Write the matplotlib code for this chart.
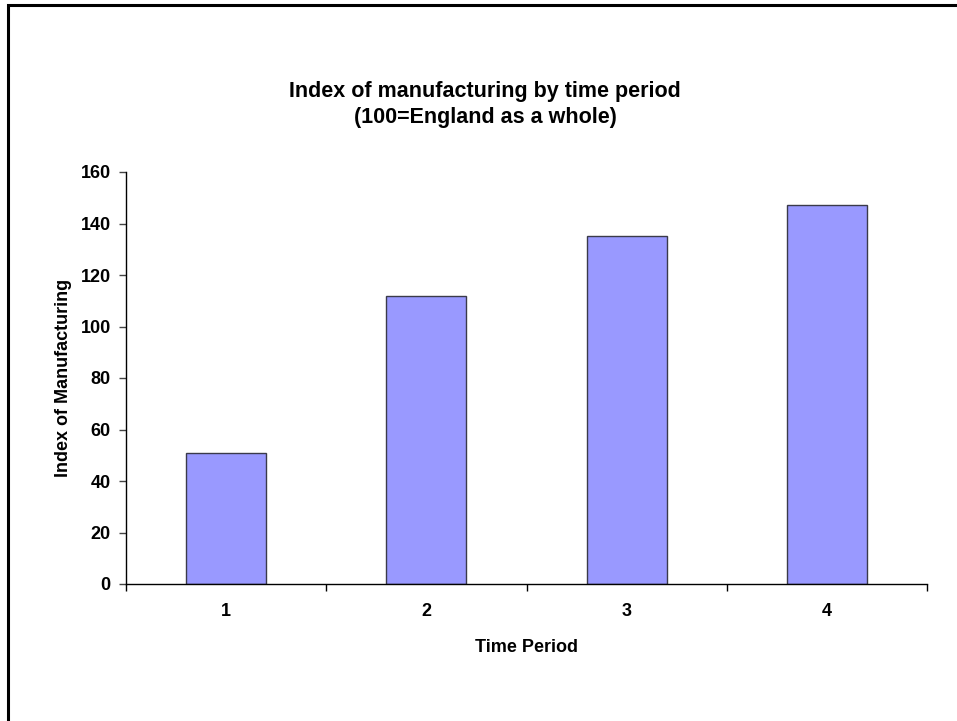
import matplotlib.pyplot as plt
import numpy as np
from matplotlib.patches import Rectangle

# index values per time period (100 = England as a whole)
periods = ["1", "2", "3", "4"]
index_values = [51, 112, 135, 147]
y_ticks = [0, 20, 40, 60, 80, 100, 120, 140, 160]

plt.rcParams['font.family'] = ['Liberation Sans', 'DejaVu Sans']
plt.rcParams['font.weight'] = 'bold'

fig = plt.figure(figsize=(9.57, 7.21), dpi=100)
ax = fig.add_axes([126 / 957, 137 / 721, 801 / 957, 412 / 721])

x = np.arange(len(periods))
ax.bar(x, index_values, width=0.4, color='#9999ff', edgecolor='#3a3a4a', linewidth=1.0)

ax.set_xlim(-0.5, len(periods) - 0.5)
ax.set_ylim(0, 160)
ax.set_yticks(y_ticks)
ax.set_yticklabels([str(v) for v in y_ticks], fontsize=13, fontweight='bold')
ax.set_xticks(x)
ax.set_xticklabels(periods, fontsize=13, fontweight='bold')
ax.set_xticks(np.arange(len(periods) + 1) - 0.5, minor=True)

ax.tick_params(axis='x', which='major', length=0, pad=14)
ax.tick_params(axis='x', which='minor', length=5, width=1, direction='out', color='black')
ax.tick_params(axis='y', length=5, width=1, direction='out', pad=6, color='#444444')

for side in ['top', 'right']:
    ax.spines[side].set_visible(False)
for side in ['left', 'bottom']:
    ax.spines[side].set_linewidth(1.0)
    ax.spines[side].set_color('black')

ax.set_xlabel("Time Period", fontsize=13, fontweight='bold', labelpad=13)
ax.set_ylabel("Index of Manufacturing", fontsize=13, fontweight='bold', labelpad=6)

fig.text(485 / 957, 1 - 92 / 721, "Index of manufacturing by time period",
         ha='center', va='center', fontsize=15.5, fontweight='bold')
fig.text(485 / 957, 1 - 117 / 721, "(100=England as a whole)",
         ha='center', va='center', fontsize=15.5, fontweight='bold')

# outer frame (only top and left edges fall inside the image)
frame = Rectangle((8 / 957, -0.1), 1.2, 1 - 5 / 721 + 0.1, transform=fig.transFigure,
                  fill=False, edgecolor='black', linewidth=2.2)
fig.patches.append(frame)

fig.savefig("out.png", dpi=100)
